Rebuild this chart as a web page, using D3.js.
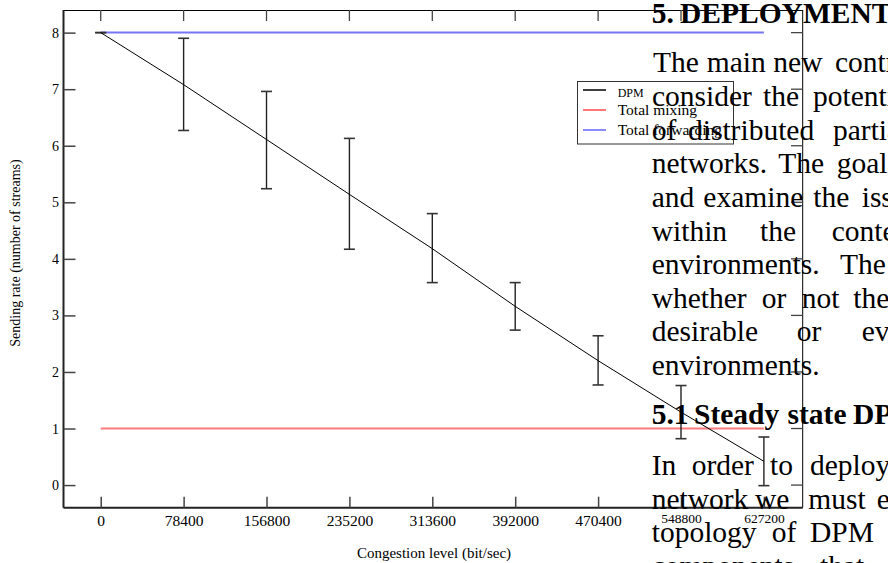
<html>
  <head>
    <style>
      body { margin: 0; background: #fff; }
      svg text { font-family: "Liberation Serif", "Times New Roman", serif; }
    </style>
  </head>
  <body>
    <svg width="888" height="563"></svg>
    <script src="https://d3js.org/d3.v7.min.js"></script>
    <script>
      // chart values
      var xTicks     = [0, 78400, 156800, 235200, 313600, 392000, 470400, 548800, 627200];
      var yTicks     = [0, 1, 2, 3, 4, 5, 6, 7, 8];
      var dpmMean    = [8, 7.08, 6.11, 5.14, 4.18, 3.16, 2.20, 1.29, 0.42];
      var dpmLow     = [8, 6.27, 5.24, 4.17, 3.58, 2.74, 1.77, 0.82, -0.01];
      var dpmHigh    = [8, 7.90, 6.96, 6.13, 4.80, 3.58, 2.64, 1.76, 0.85];
      var mixing     = [1, 1, 1, 1, 1, 1, 1, 1, 1];
      var forwarding = [8, 8, 8, 8, 8, 8, 8, 8, 8];
      var seriesNames = ["DPM", "Total mixing", "Total forwarding"];

      // page text that was printed over the figure
      var pageLines = [
        { words: ["5.", "DEPLOYMENT"], bold: true },
        { words: ["The", "main", "new", "contr"] },
        { words: ["consider", "the", "potenti"] },
        { words: ["of", "distributed", "partia"] },
        { words: ["networks.", "The", "goal"] },
        { words: ["and", "examine", "the", "iss"] },
        { words: ["within", "the", "conte"] },
        { words: ["environments.", "The"] },
        { words: ["whether", "or", "not", "the"] },
        { words: ["desirable", "or", "ev"] },
        { words: ["environments."] },
        { words: ["5.1", "Steady", "state", "DP"], bold: true },
        { words: ["In", "order", "to", "deploy"] },
        { words: ["network", "we", "must", "e"] },
        { words: ["topology", "of", "DPM"] },
        { words: ["components", "that"] }
      ];
      // where the page words start and the lines sit
      var pageX = [
        [651.7, 680], [653, 706.7, 773.3, 835], [652, 763, 813], [651.7, 688, 833],
        [651.7, 778.3, 836.7], [651.7, 703.3, 813.3, 861.7], [651.7, 760, 831.7],
        [651.7, 840], [651.7, 761.7, 801.7, 853.3], [651.7, 796.7, 861.7], [651.7],
        [651.7, 694, 787.5, 853], [651.7, 691.7, 770, 810], [651.7, 755, 808.3, 876.7],
        [651.7, 771.7, 810], [651.7, 820]
      ];
      var pageY = [22.7, 71.7, 106, 140, 173, 206.5, 240.5, 274, 307.5, 341, 374.5, 424, 475, 508.5, 542, 576];

      var svg = d3.select("svg");

      var x = d3.scaleLinear().domain([-35200, 663900]).range([63.5, 802.7]);
      var y = d3.scaleLinear().domain([-0.4, 8.4]).range([507.7, 10]);

      // frame: top and right plain, left and bottom heavier
      var frame = svg.append("g");
      frame.append("line").attr("x1", 63.5).attr("x2", 802.7).attr("y1", 10.5).attr("y2", 10.5)
          .attr("stroke", "#000").attr("stroke-width", 1);
      frame.append("line").attr("x1", 802.7).attr("x2", 802.7).attr("y1", 10).attr("y2", 507.7)
          .attr("stroke", "#000").attr("stroke-width", 1);

      var tickColor = "#444";

      // inner ticks on top and right
      frame.selectAll(".tt").data(xTicks).enter().append("line")
          .attr("x1", function(d) { return x(d); }).attr("x2", function(d) { return x(d); })
          .attr("y1", 10).attr("y2", 21)
          .attr("stroke", tickColor).attr("stroke-width", 1.3);
      frame.selectAll(".rt").data(yTicks).enter().append("line")
          .attr("x1", 791).attr("x2", 802.7)
          .attr("y1", function(d) { return y(d); }).attr("y2", function(d) { return y(d); })
          .attr("stroke", tickColor).attr("stroke-width", 1.3);

      var xAxis = svg.append("g")
          .attr("transform", "translate(0,507.7)")
          .call(d3.axisBottom(x).tickValues(xTicks).tickSize(-11).tickPadding(18).tickFormat(d3.format("d")));
      xAxis.select(".domain").attr("d", "M63.5,0H802.7").attr("stroke", "#222").attr("stroke-width", 2);
      xAxis.selectAll(".tick line").attr("stroke", tickColor).attr("stroke-width", 1.5);
      xAxis.selectAll(".tick text")
          .attr("font-family", "Liberation Serif").attr("font-size", 15.5).attr("fill", "#000")
          .attr("dy", "0em").attr("y", 18);
      xAxis.selectAll(".tick text").filter(function(d) { return d >= 548800; })
          .attr("font-size", 13.5).attr("y", 15.5);

      var yAxis = svg.append("g")
          .attr("transform", "translate(63.5,0)")
          .call(d3.axisLeft(y).tickValues(yTicks).tickSize(-12).tickPadding(5));
      yAxis.select(".domain").attr("d", "M0,10V507.7").attr("stroke", "#222").attr("stroke-width", 2);
      yAxis.selectAll(".tick line").attr("stroke", tickColor).attr("stroke-width", 1.5);
      yAxis.selectAll(".tick text")
          .attr("font-family", "Liberation Serif").attr("font-size", 14).attr("fill", "#000")
          .attr("x", -4.5);

      svg.selectAll(".domain").attr("fill", "none");

      // axis titles
      svg.append("text")
          .attr("x", 434).attr("y", 558)
          .attr("text-anchor", "middle").attr("font-size", 15)
          .text("Congestion level (bit/sec)");
      svg.append("text")
          .attr("transform", "translate(20,253) rotate(-90)")
          .attr("text-anchor", "middle").attr("font-size", 14)
          .text("Sending rate (number of streams)");

      // flat series
      var flat = d3.line()
          .x(function(d, i) { return x(xTicks[i]); })
          .y(function(d) { return y(d); });
      svg.append("path").datum(mixing).attr("d", flat)
          .attr("fill", "none").attr("stroke", "#ff7a7a").attr("stroke-width", 2);
      svg.append("path").datum(forwarding).attr("d", flat)
          .attr("fill", "none").attr("stroke", "#7676f4").attr("stroke-width", 2);

      // DPM with error bars
      var bars = svg.append("g").selectAll("g").data(xTicks).enter().append("g");
      bars.append("line")
          .attr("x1", function(d) { return x(d); }).attr("x2", function(d) { return x(d); })
          .attr("y1", function(d, i) { return y(dpmLow[i]); })
          .attr("y2", function(d, i) { return y(dpmHigh[i]); })
          .attr("stroke", "#222").attr("stroke-width", 1.4);
      [dpmLow, dpmHigh].forEach(function(arr) {
        bars.append("line")
            .attr("x1", function(d) { return x(d) - 5.5; }).attr("x2", function(d) { return x(d) + 5.5; })
            .attr("y1", function(d, i) { return y(arr[i]); })
            .attr("y2", function(d, i) { return y(arr[i]); })
            .attr("stroke", "#333").attr("stroke-width", 1.6);
      });
      svg.append("path").datum(dpmMean).attr("d", flat)
          .attr("fill", "none").attr("stroke", "#000").attr("stroke-width", 1);

      // legend
      var legendColors = ["#000", "#ff4a4a", "#6464ff"];
      var legend = svg.append("g");
      legend.append("rect")
          .attr("x", 577.5).attr("y", 81.5).attr("width", 156).attr("height", 62.5)
          .attr("fill", "none").attr("stroke", "#333").attr("stroke-width", 1);
      var li = legend.selectAll("g").data(seriesNames).enter().append("g")
          .attr("transform", function(d, i) { return "translate(0," + (90 + i * 20) + ")"; });
      li.append("line").attr("x1", 583).attr("x2", 606).attr("y1", 0).attr("y2", 0)
          .attr("stroke", function(d, i) { return legendColors[i]; }).attr("stroke-width", 1.5);
      li.append("text")
          .attr("x", 617.7)
          .attr("y", function(d, i) { return i === 0 ? 6.5 : 4.5; })
          .attr("font-size", function(d, i) { return i === 0 ? 12 : 15.5; })
          .text(function(d) { return d; });

      // page text on top
      var page = svg.append("g");
      pageLines.forEach(function(line, li) {
        var t = page.append("text")
            .attr("y", pageY[li])
            .attr("font-size", 29.5)
            .attr("font-weight", line.bold ? "bold" : "normal")
            .attr("fill", "#000");
        line.words.forEach(function(w, wi) {
          t.append("tspan").attr("x", pageX[li][wi]).text(w);
        });
      });
    </script>
  </body>
</html>
